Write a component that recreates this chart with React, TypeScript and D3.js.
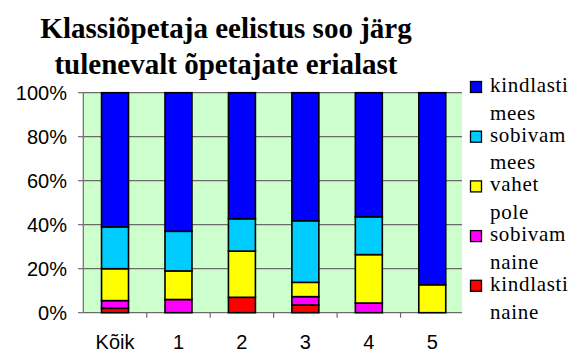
import React from "react";
import * as d3 from "d3";

const categories = ["Kõik", "1", "2", "3", "4", "5"];
const seriesNames = ["kindlasti naine", "sobivam naine", "vahet pole", "sobivam mees", "kindlasti mees"];
const seriesColors = ["#FF0000", "#FF00FF", "#FFFF00", "#00CCFF", "#0000FF"];
const kindlastiNaine = [2, 0, 7, 3.5, 0, 0];
const sobivamNaine = [3.5, 6, 0, 3.8, 4.4, 0];
const vahetPole = [14.5, 13, 21, 6.5, 22, 12.7];
const sobivamMees = [19, 18, 14.7, 28, 17.2, 0];
const kindlastiMees = [61, 63, 57.3, 58.2, 56.4, 87.3];
const yTicks = [0, 20, 40, 60, 80, 100];
const legendLines = [
  ["kindlasti", "mees"],
  ["sobivam", "mees"],
  ["vahet", "pole"],
  ["sobivam", "naine"],
  ["kindlasti", "naine"],
];
const titleLines = ["Klassiõpetaja eelistus soo järg", "tulenevalt õpetajate erialast"];

export default function App() {
  const W = 578, H = 354;
  const left = 83.3, right = 462, top = 92.7, bottom = 312.7;
  const x = d3.scaleBand<string>().domain(categories).range([left, 464]).padding(0);
  const y = d3.scaleLinear().domain([0, 100]).range([bottom, top]);
  const barW = x.bandwidth() * 0.425;
  const series = [kindlastiNaine, sobivamNaine, vahetPole, sobivamMees, kindlastiMees];
  const table = categories.map((c, i) => {
    const row: any = { cat: c };
    seriesNames.forEach((s, j) => (row[s] = series[j][i]));
    return row;
  });
  const stack = d3.stack<any>().keys(seriesNames)(table);
  const legendOrder = [4, 3, 2, 1, 0];
  const serifStyle = { fontFamily: "Liberation Serif", fontSize: 21, letterSpacing: 0.7 };
  const titleStyle = { fontFamily: "Liberation Serif", fontSize: 29, fontWeight: 700 as const };
  const sansStyle = { fontFamily: "Liberation Sans", fontSize: 20 };

  return (
    <svg width={W} height={H} style={{ position: "absolute", left: 0, top: 0, background: "#fff" }}>
      <rect x={left} y={top} width={right - left} height={bottom - top} fill="#CCFFCC" />
      {yTicks.map((t) => (
        <g key={t}>
          {t > 0 && (
            <line x1={left} x2={right} y1={y(t)} y2={y(t)} stroke="#6b6b6b" strokeWidth={1.2} />
          )}
          <line x1={78} x2={left} y1={y(t)} y2={y(t)} stroke="#6b6b6b" strokeWidth={1.2} />
          <text x={67} y={y(t)} dy="0.36em" textAnchor="end" style={sansStyle} fill="#000">
            {t}%
          </text>
        </g>
      ))}
      <line x1={left} x2={left} y1={top} y2={bottom} stroke="#6b6b6b" strokeWidth={1.2} />
      <line x1={left} x2={right} y1={bottom} y2={bottom} stroke="#6b6b6b" strokeWidth={1.2} />
      {categories.slice(1).map((c) => (
        <line key={c} x1={x(c)!} x2={x(c)!} y1={bottom} y2={bottom + 5} stroke="#6b6b6b" strokeWidth={1.2} />
      ))}
      {stack.map((layer, j) =>
        layer.map((d, i) => {
          const h = y(d[0]) - y(d[1]);
          if (h <= 0.01) return null;
          const cx = x(categories[i])! + x.bandwidth() / 2;
          return (
            <rect
              key={j + "-" + i}
              x={cx - barW / 2}
              y={y(d[1])}
              width={barW}
              height={h}
              fill={seriesColors[j]}
              stroke="#000"
              strokeWidth={1.6}
            />
          );
        })
      )}
      {categories.map((c) => (
        <text key={c} x={x(c)! + x.bandwidth() / 2} y={349} textAnchor="middle" style={sansStyle} fill="#000">
          {c}
        </text>
      ))}
      {titleLines.map((t, i) => (
        <text key={i} x={226} y={38 + i * 35.5} textAnchor="middle" style={titleStyle} fill="#000">
          {t}
        </text>
      ))}
      {legendOrder.map((s, k) => {
        const by = 92 + k * 49.7;
        return (
          <g key={s}>
            <rect x={470.5} y={by - 10.5} width={11} height={11} fill={seriesColors[s]} stroke="#000" strokeWidth={1.3} />
            {legendLines[k].map((ln, li) => (
              <text key={li} x={490} y={by + li * 27.7} style={serifStyle} fill="#000">
                {ln}
              </text>
            ))}
          </g>
        );
      })}
    </svg>
  );
}
